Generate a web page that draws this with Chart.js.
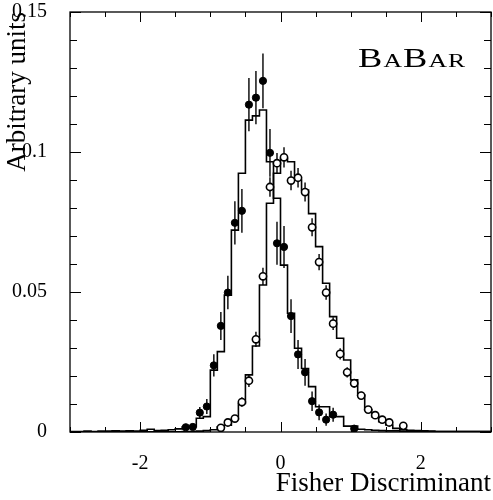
<!DOCTYPE html>
<html>
<head>
<meta charset="utf-8">
<script src="https://cdn.jsdelivr.net/npm/chart.js@4.4.1/dist/chart.umd.min.js"></script>
<style>
  html, body { margin: 0; padding: 0; background: #fff; }
  #wrap { width: 493px; height: 500px; }
</style>
</head>
<body>
<div id="wrap"><canvas id="chart" width="493" height="500"></canvas></div>
<script>
// --- DATA ---
// histogram bins: 60 bins of width 0.1 from -3 to 3 (values listed per bin, left to right)
const binEdgeLow = -3;
const binWidth = 0.1;

// filled-dot sample, histogram (MC)
const filledHist = [
  0.0002, 0.0002, 0.0003, 0.0002, 0.0003, 0.0003, 0.0004, 0.0003, 0.0004, 0.0003,
  0.0006, 0.0010, 0.0005, 0.0006, 0.0008, 0.0011, 0.0019, 0.0019, 0.0049, 0.0055,
  0.0221, 0.0287, 0.0489, 0.0721, 0.0924, 0.1114, 0.1129, 0.1150, 0.0965, 0.0835,
  0.0596, 0.0424, 0.0299, 0.0227, 0.0162, 0.0090, 0.0090, 0.0055, 0.0055, 0.0021,
  0.0021, 0.0010, 0.0008, 0.0006, 0.0005, 0.0004, 0.0004, 0.0003, 0.0003, 0.0002,
  0.0002, 0.0002, 0.0002, 0.0002, 0.0002, 0.0002, 0.0002, 0.0002, 0.0002, 0.0002
];

// open-dot sample, histogram (MC)
const openHist = [
  0.0001, 0.0001, 0.0001, 0.0001, 0.0001, 0.0001, 0.0001, 0.0001, 0.0001, 0.0001,
  0.0001, 0.0001, 0.0001, 0.0001, 0.0001, 0.0001, 0.0002, 0.0002, 0.0003, 0.0005,
  0.0008, 0.0019, 0.0024, 0.0046, 0.0102, 0.0204, 0.0307, 0.0525, 0.0817, 0.0924,
  0.0977, 0.0965, 0.0900, 0.0864, 0.0780, 0.0662, 0.0531, 0.0412, 0.0335, 0.0257,
  0.0186, 0.0132, 0.0079, 0.0055, 0.0037, 0.0025, 0.0013, 0.0009, 0.0006, 0.0005,
  0.0004, 0.0003, 0.0002, 0.0002, 0.0002, 0.0002, 0.0002, 0.0002, 0.0002, 0.0002
];

// filled dots (data) with errors
const filledX = [-1.35, -1.25, -1.15, -1.05, -0.95, -0.85, -0.75, -0.65, -0.55, -0.45, -0.35, -0.25,
  -0.15, -0.05, 0.05, 0.15, 0.25, 0.35, 0.45, 0.55, 0.65, 0.75, 1.05];
const filledY = [0.0017, 0.0018, 0.0069, 0.0091, 0.0238, 0.0379, 0.0498, 0.0747, 0.0790, 0.1169, 0.1194, 0.1254,
  0.0997, 0.0674, 0.0661, 0.0414, 0.0277, 0.0213, 0.0110, 0.0070, 0.0044, 0.0062, 0.0012];
const filledErr = [0.0010, 0.0010, 0.0020, 0.0027, 0.0040, 0.0050, 0.0060, 0.0077, 0.0078, 0.0095, 0.0095, 0.0098,
  0.0085, 0.0077, 0.0075, 0.0060, 0.0052, 0.0048, 0.0035, 0.0028, 0.0022, 0.0025, 0.0012];

// open dots (data) with errors
const openX = [-0.85, -0.75, -0.65, -0.55, -0.45, -0.35, -0.25, -0.15, -0.05, 0.05, 0.15, 0.25, 0.35,
  0.45, 0.55, 0.65, 0.75, 0.85, 0.95, 1.05, 1.15, 1.25, 1.35, 1.45, 1.55, 1.75];
const openY = [0.0015, 0.0034, 0.0048, 0.0107, 0.0183, 0.0331, 0.0556, 0.0875, 0.0960, 0.0981, 0.0898, 0.0908, 0.0857,
  0.0731, 0.0607, 0.0498, 0.0387, 0.0279, 0.0213, 0.0174, 0.0130, 0.0080, 0.0060, 0.0044, 0.0034, 0.0022];
const openErr = [0.0008, 0.0010, 0.0012, 0.0017, 0.0022, 0.0027, 0.0031, 0.0035, 0.0036, 0.0036, 0.0035, 0.0035, 0.0034,
  0.0032, 0.0029, 0.0026, 0.0023, 0.0020, 0.0018, 0.0016, 0.0014, 0.0011, 0.0010, 0.0009, 0.0008, 0.0006];

// axes
const xMajorTicks = [-2, 0, 2];
const yMajorTicks = [0, 0.05, 0.1, 0.15];
const xTitle = "Fisher Discriminant";
const yTitle = "Arbitrary units";

// --- HELPERS ---
const SERIF = '"Liberation Serif", "Times New Roman", Times, serif';

const histPoints = (values) => {
  const pts = values.map((v, i) => ({ x: binEdgeLow + i * binWidth, y: v }));
  pts.push({ x: binEdgeLow + values.length * binWidth, y: values[values.length - 1] });
  return pts;
};
const dotPoints = (xs, ys, errs) => xs.map((x, i) => ({ x, y: ys[i], err: errs[i] }));

// error bars drawn right before the dot dataset itself
const errorBarPlugin = {
  id: "errorBars",
  beforeDatasetDraw(chart, args) {
    const ds = chart.data.datasets[args.index];
    if (!ds.errorBars) return;
    const { ctx, chartArea } = chart;
    const xs = chart.scales.x, ys = chart.scales.y;
    ctx.save();
    ctx.beginPath();
    ctx.rect(chartArea.left, chartArea.top, chartArea.width, chartArea.height);
    ctx.clip();
    ctx.strokeStyle = "#000";
    ctx.lineWidth = 1.4;
    ds.data.forEach((p) => {
      const px = xs.getPixelForValue(p.x);
      ctx.beginPath();
      ctx.moveTo(px, ys.getPixelForValue(p.y - p.err));
      ctx.lineTo(px, ys.getPixelForValue(p.y + p.err));
      ctx.stroke();
    });
    ctx.restore();
  }
};

// frame with inward ticks on all four sides + BaBar label
const framePlugin = {
  id: "frame",
  afterDraw(chart) {
    const { ctx, chartArea: a } = chart;
    const xs = chart.scales.x, ys = chart.scales.y;
    ctx.save();
    ctx.strokeStyle = "#000";
    ctx.lineWidth = 1.3;
    ctx.strokeRect(a.left, a.top, a.right - a.left, a.bottom - a.top);

    ctx.lineWidth = 1;
    ctx.beginPath();
    for (let v = -3; v <= 3.0001; v += 0.5) {
      const px = Math.round(xs.getPixelForValue(v)) + 0.5;
      const len = xMajorTicks.some((t) => Math.abs(t - v) < 1e-6) ? 10 : 5;
      ctx.moveTo(px, a.bottom); ctx.lineTo(px, a.bottom - len);
      ctx.moveTo(px, a.top); ctx.lineTo(px, a.top + len);
    }
    for (let i = 0; i <= 15; i++) {
      const v = i * 0.01;
      const py = Math.round(ys.getPixelForValue(v)) + 0.5;
      const len = i % 5 === 0 ? 11 : 7;
      ctx.moveTo(a.left, py); ctx.lineTo(a.left + len, py);
      ctx.moveTo(a.right, py); ctx.lineTo(a.right - len, py);
    }
    ctx.stroke();

    // BaBar logo in small caps, slightly widened
    ctx.fillStyle = "#000";
    ctx.textBaseline = "alphabetic";
    const sx = 1.35;
    ctx.translate(358, 67);
    ctx.scale(sx, 1);
    let x = 0;
    [["B", 27], ["A", 19], ["B", 27], ["A", 19], ["R", 19]].forEach(([t, size]) => {
      ctx.font = `${size}px ${SERIF}`;
      ctx.fillText(t, x, 0);
      x += ctx.measureText(t).width + 0.8;
    });
    ctx.restore();
  }
};

// --- CHART ---
const ctx = document.getElementById("chart").getContext("2d");
new Chart(ctx, {
  type: "scatter",
  data: {
    datasets: [
      {
        label: "filled data",
        data: dotPoints(filledX, filledY, filledErr),
        errorBars: true,
        pointStyle: "circle",
        pointRadius: 3.6,
        pointBackgroundColor: "#000",
        pointBorderColor: "#000",
        pointBorderWidth: 1,
        order: 0
      },
      {
        label: "open data",
        data: dotPoints(openX, openY, openErr),
        errorBars: true,
        pointStyle: "circle",
        pointRadius: 3.6,
        pointBackgroundColor: "#fff",
        pointBorderColor: "#000",
        pointBorderWidth: 1.6,
        order: 1
      },
      {
        type: "line",
        label: "filled MC",
        data: histPoints(filledHist),
        stepped: "before",
        borderColor: "#000",
        borderWidth: 1.6,
        pointRadius: 0,
        fill: false,
        order: 3
      },
      {
        type: "line",
        label: "open MC",
        data: histPoints(openHist),
        stepped: "before",
        borderColor: "#000",
        borderWidth: 1.6,
        pointRadius: 0,
        fill: false,
        order: 4
      }
    ]
  },
  options: {
    responsive: false,
    animation: false,
    layout: { autoPadding: false, padding: { top: 12, right: 2, left: 0, bottom: 0 } },
    plugins: { legend: { display: false }, tooltip: { enabled: false } },
    scales: {
      x: {
        type: "linear",
        min: -3,
        max: 3,
        afterBuildTicks: (scale) => { scale.ticks = xMajorTicks.map((v) => ({ value: v })); },
        afterFit: (scale) => { scale.height = 68; scale.paddingLeft = 0; scale.paddingRight = 0; },
        grid: { display: false },
        border: { display: false },
        ticks: { color: "#000", padding: 12, font: { family: SERIF, size: 20 }, maxRotation: 0 },
        title: {
          display: true,
          text: xTitle,
          align: "end",
          color: "#000",
          font: { family: SERIF, size: 27 },
          padding: { top: 0, bottom: 0 }
        }
      },
      y: {
        type: "linear",
        min: 0,
        max: 0.15,
        afterBuildTicks: (scale) => { scale.ticks = yMajorTicks.map((v) => ({ value: v })); },
        afterFit: (scale) => { scale.width = 70; scale.paddingTop = 0; scale.paddingBottom = 0; },
        grid: { display: false },
        border: { display: false },
        ticks: {
          color: "#000",
          padding: 15,
          font: { family: SERIF, size: 20 },
          callback: (v) => String(Number(v.toFixed(2)))
        },
        title: {
          display: true,
          text: yTitle,
          align: "end",
          color: "#000",
          font: { family: SERIF, size: 27 },
          padding: { top: 2, bottom: 0 }
        }
      }
    }
  },
  plugins: [errorBarPlugin, framePlugin]
});
</script>
</body>
</html>
